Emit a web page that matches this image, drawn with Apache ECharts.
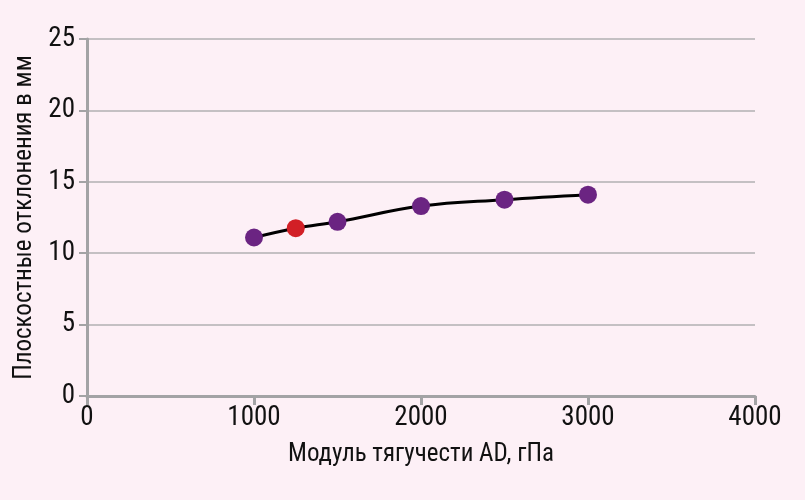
<!DOCTYPE html>
<html><head><meta charset="utf-8">
<script src="https://cdn.jsdelivr.net/npm/echarts@6/dist/echarts.min.js"></script>
<style>html,body{margin:0;padding:0;background:#fdf0f6;}#c{width:805px;height:500px;}</style>
</head><body><div id="c"></div>
<script>
const xValues = [1000, 1250, 1500, 2000, 2500, 3000];
const yValues = [11.1, 11.75, 12.2, 13.3, 13.75, 14.1];
const pointColors = ['#6b2482', '#d21f26', '#6b2482', '#6b2482', '#6b2482', '#6b2482'];
const xTitle = 'Модуль тягучести AD, гПа';
const yTitle = 'Плоскостные отклонения в мм';

const font = "'Liberation Sans Narrow', 'Roboto Condensed', 'Liberation Sans', sans-serif";
const chart = echarts.init(document.getElementById('c'));
chart.setOption({
  backgroundColor: '#fdf0f6',
  animation: false,
  grid: {left: 87, right: 50, top: 39, bottom: 104},
  xAxis: {
    type: 'value', min: 0, max: 4000, interval: 1000,
    name: xTitle, nameLocation: 'middle', nameGap: 46,
    nameTextStyle: {fontFamily: font, fontSize: 25, color: '#111'},
    axisLine: {show: true, lineStyle: {color: '#a3a3a5', width: 3}},
    axisTick: {show: true, length: 9, lineStyle: {color: '#a3a3a5', width: 3}},
    axisLabel: {fontFamily: font, fontSize: 27, color: '#111', margin: 9, formatter: v => String(v)},
    splitLine: {show: false}
  },
  yAxis: {
    type: 'value', min: 0, max: 25, interval: 5,
    name: yTitle, nameLocation: 'middle', nameGap: 48,
    nameTextStyle: {fontFamily: font, fontSize: 25, color: '#111'},
    axisLine: {show: true, lineStyle: {color: '#a3a3a5', width: 3}},
    axisTick: {show: true, length: 8, lineStyle: {color: '#a3a3a5', width: 2}},
    axisLabel: {fontFamily: font, fontSize: 27, color: '#111', margin: 12, formatter: v => String(v)},
    splitLine: {show: true, lineStyle: {color: '#b0b0b2', width: 1.5}}
  },
  series: [{
    type: 'line',
    smooth: 0.4,
    symbol: 'circle', symbolSize: 18,
    lineStyle: {color: '#000', width: 3},
    data: xValues.map((x, i) => ({value: [x, yValues[i]], itemStyle: {color: pointColors[i]}})),
    z: 3
  }]
});
</script></body></html>
